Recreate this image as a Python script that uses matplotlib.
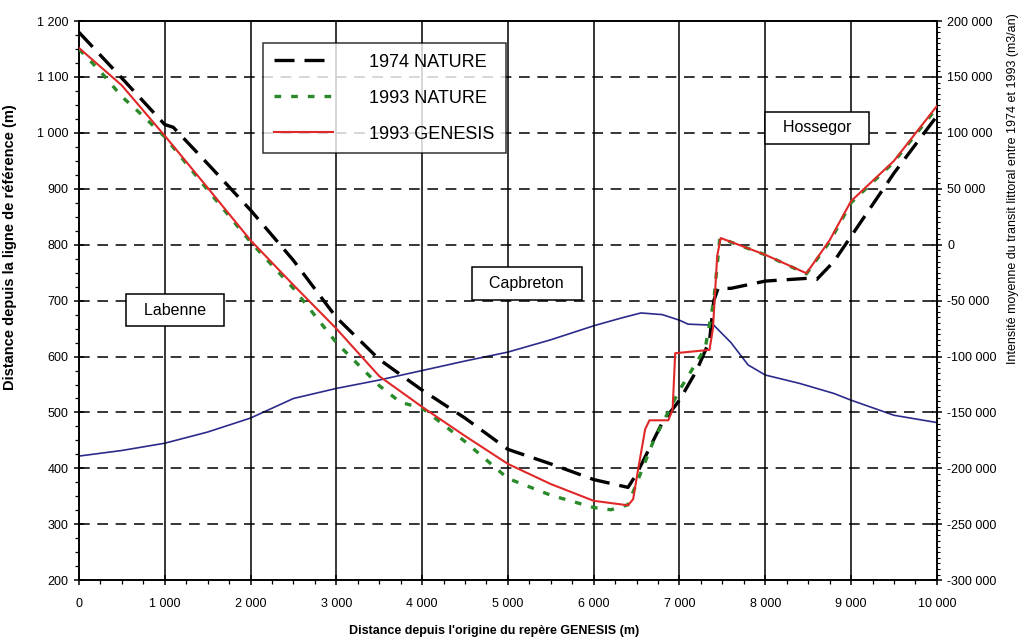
import numpy as np
import matplotlib.pyplot as plt
import matplotlib.ticker as ticker

plt.rcParams["font.family"] = ["Liberation Sans", "DejaVu Sans"]

# 1974 NATURE (trait de côte, m)
x_1974 = [0, 500, 1000, 1100, 1500, 2000, 2500, 3000, 3500, 4000, 4500, 5000,
          5500, 6000, 6400, 6500, 6800, 7000, 7200, 7350, 7400, 7450, 7600,
          8000, 8500, 8600, 8800, 9000, 9500, 10000]
y_1974 = [1180, 1098, 1015, 1010, 945, 862, 772, 670, 595, 540, 490, 434,
          408, 380, 366, 390, 482, 522, 575, 628, 700, 722, 722,
          735, 740, 738, 770, 815, 928, 1030]

# 1993 NATURE
x_1993n = [0, 250, 500, 750, 1000, 1500, 2000, 2500, 3000, 3500, 3750, 4000,
           4500, 5000, 5500, 6000, 6200, 6400, 6700, 7000, 7300, 7400, 7470,
           8000, 8480, 8750, 9000, 9500, 10000]
y_1993n = [1150, 1110, 1065, 1030, 993, 898, 805, 722, 625, 548, 518, 508,
           448, 382, 352, 330, 326, 335, 450, 540, 615, 700, 812,
           782, 748, 805, 875, 948, 1045]

# 1993 GENESIS
x_1993g = [0, 500, 1000, 1500, 2000, 2500, 3000, 3500, 4000, 4500, 5000, 5500,
           6000, 6400, 6460, 6520, 6600, 6650, 6870, 6920, 6950, 7350, 7390,
           7440, 7480, 8000, 8480, 8750, 9000, 9500, 10000]
y_1993g = [1152, 1085, 995, 902, 808, 728, 650, 565, 510, 458, 408, 372,
           342, 334, 345, 400, 470, 486, 486, 505, 606, 612, 650,
           780, 812, 782, 749, 808, 878, 950, 1048]

# transit littoral moyen (m3/an), axe de droite
x_transit = [0, 500, 1000, 1500, 2000, 2500, 3000, 3500, 4000, 4500, 5000,
             5500, 6000, 6300, 6550, 6800, 7000, 7100, 7400, 7600, 7800, 8000,
             8400, 8800, 9000, 9500, 10000]
y_transit = [-189000, -184000, -177500, -167500, -155000, -137500, -128500,
             -121000, -112500, -104000, -96000, -85000, -72500, -66000,
             -61000, -62500, -67500, -71000, -72000, -87500, -107500,
             -116500, -124000, -133000, -139000, -152500, -159000]

labels = [("Labenne", 1120, 683), ("Capbreton", 5220, 731), ("Hossegor", 8600, 1009)]


def fmt_space(v, pos=None):
    return f"{int(round(v)):,}".replace(",", " ")


fig = plt.figure(figsize=(10.25, 6.39), dpi=100)
ax = fig.add_axes([0.077, 0.092, 0.837, 0.875])
ax2 = ax.twinx()

ax.set_xlim(0, 10000)
ax.set_ylim(200, 1200)
ax2.set_ylim(-300000, 200000)

# grille
for yg in range(300, 1200, 100):
    ax.axhline(yg, color="black", lw=1.1, ls=(0, (7, 5)), zorder=1)
for xg in range(1000, 10000, 1000):
    ax.axvline(xg, color="black", lw=1.1, zorder=1)

ax2.plot(x_transit, y_transit, color="#2b2b8c", lw=1.2, zorder=2)

ax.set_zorder(ax2.get_zorder() + 1)
ax.patch.set_visible(False)

ax.plot(x_1974, y_1974, color="black", lw=2.4, ls=(0, (6, 3)),
        label="1974 NATURE", zorder=3)
ax.plot(x_1993n, y_1993n, color="#2a8a2a", lw=2.4, ls=(0, (2, 3)),
        label="1993 NATURE", zorder=3)
ax.plot(x_1993g, y_1993g, color="#e02828", lw=1.5,
        label="1993 GENESIS", zorder=4)

for txt, xt, yt in labels:
    ax.text(xt, yt, "  " + txt + "  ", ha="center", va="center", fontsize=11.5,
            zorder=5,
            bbox=dict(boxstyle="square,pad=0.55", fc="white", ec="black", lw=1.1))

leg = ax.legend(loc="upper left", bbox_to_anchor=(0.2145, 0.961), fontsize=13,
                frameon=True, fancybox=False, handlelength=3.3, handletextpad=2.0,
                labelspacing=1.05, borderpad=0.6, borderaxespad=0)
leg.get_frame().set_edgecolor("black")
leg.get_frame().set_linewidth(1.1)
leg.set_zorder(6)

# ticks
ax.xaxis.set_major_locator(ticker.MultipleLocator(1000))
ax.xaxis.set_minor_locator(ticker.MultipleLocator(250))
ax.yaxis.set_major_locator(ticker.MultipleLocator(100))
ax.yaxis.set_minor_locator(ticker.MultipleLocator(25))
ax2.yaxis.set_major_locator(ticker.MultipleLocator(50000))
ax2.yaxis.set_minor_locator(ticker.MultipleLocator(5000))
ax.xaxis.set_major_formatter(ticker.FuncFormatter(fmt_space))
ax.yaxis.set_major_formatter(ticker.FuncFormatter(fmt_space))
ax2.yaxis.set_major_formatter(ticker.FuncFormatter(fmt_space))

ax.tick_params(axis="both", which="major", direction="inout", length=7,
               width=1.1, labelsize=9, pad=4)
ax.tick_params(axis="x", which="major", pad=9)
ax.tick_params(axis="both", which="minor", direction="out", length=3, width=0.9)
ax.tick_params(axis="y", which="both", right=False)
ax.tick_params(axis="x", which="both", top=False)
ax2.tick_params(axis="y", which="major", direction="inout", length=7,
                width=1.1, labelsize=9, pad=4)
ax2.tick_params(axis="y", which="minor", direction="out", length=2.5, width=0.8)

for a in (ax, ax2):
    for sp in a.spines.values():
        sp.set_linewidth(1.2)

ax.set_xlabel("Distance depuis l'origine du repère GENESIS (m)", fontsize=9,
              fontweight="bold")
ax.xaxis.set_label_coords(0.484, -0.080)
ax.set_ylabel("Distance depuis la ligne de référence (m)", fontsize=10.5,
              fontweight="bold")
ax.yaxis.set_label_coords(-0.072, 0.596)
ax2.set_ylabel("Intensité moyenne du transit littoral entre 1974 et 1993 (m3/an)",
               fontsize=9)
ax2.yaxis.set_label_coords(1.082, 0.70)

fig.savefig("out.png", dpi=100)
